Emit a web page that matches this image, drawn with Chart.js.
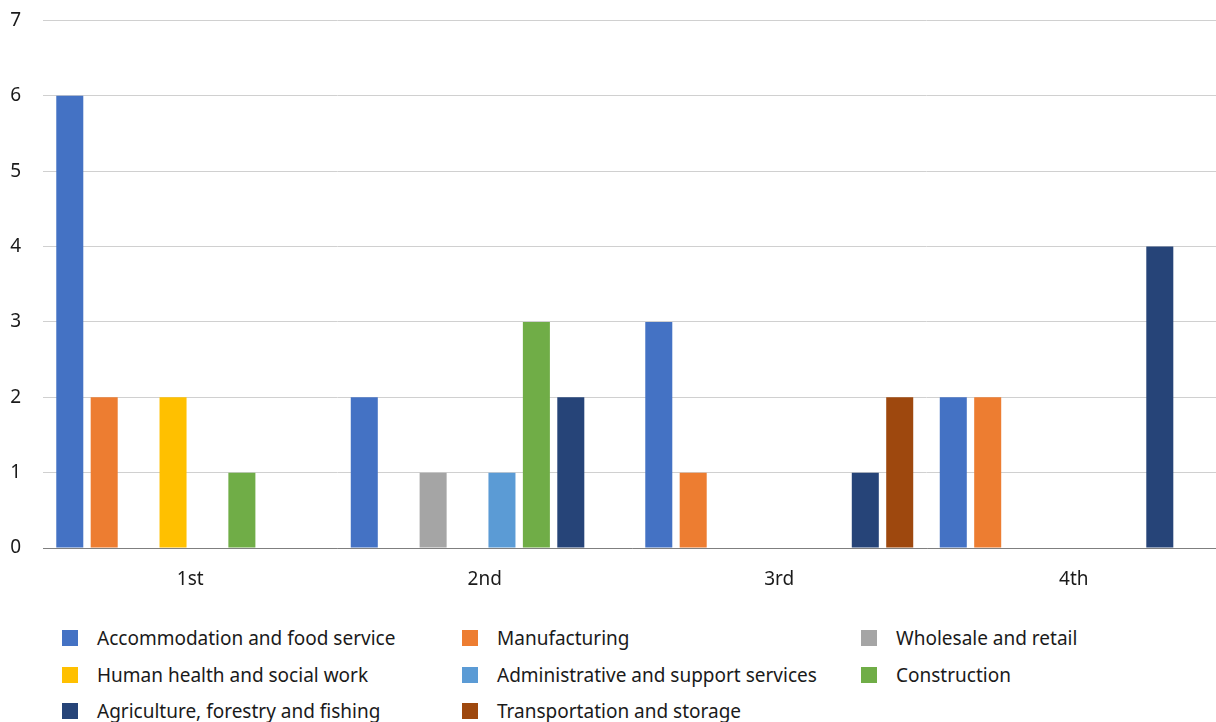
<!DOCTYPE html>
<html>
<head>
<meta charset="utf-8">
<script src="https://cdn.jsdelivr.net/npm/chart.js@4.4.1/dist/chart.umd.min.js"></script>
<style>
  html, body { margin: 0; padding: 0; background: #fff; overflow: hidden; }
  #wrap { position: relative; width: 1216px; height: 722px; overflow: hidden; font-family: "Noto Sans", sans-serif; }
  #chart-box { position: absolute; left: 0; top: -13px; width: 1221px; height: 613px; }
  .leg-item { position: absolute; display: flex; align-items: center; font-size: 19px; color: #1a1a1a; white-space: nowrap; }
  .leg-box { width: 16px; height: 16px; margin-right: 19px; }
</style>
</head>
<body>
<div id="wrap">
  <div id="chart-box"><canvas id="chart" width="1221" height="613"></canvas></div>
  <div id="legend"></div>
</div>
<script>
// DATA
const categories = ["1st", "2nd", "3rd", "4th"];
const seriesNames = [
  "Accommodation and food service",
  "Manufacturing",
  "Wholesale and retail",
  "Human health and social work",
  "Administrative and support services",
  "Construction",
  "Agriculture, forestry and fishing",
  "Transportation and storage"
];
const accommodation = [6, 2, 3, 2];
const manufacturing = [2, 0, 1, 2];
const wholesale = [0, 1, 0, 0];
const humanHealth = [2, 0, 0, 0];
const administrative = [0, 1, 0, 0];
const construction = [1, 3, 0, 0];
const agriculture = [0, 2, 1, 4];
const transportation = [0, 0, 2, 0];
const yTicks = [0, 1, 2, 3, 4, 5, 6, 7];

const seriesValues = [accommodation, manufacturing, wholesale, humanHealth,
  administrative, construction, agriculture, transportation];
const colors = ["#4472C4", "#ED7D31", "#A5A5A5", "#FFC000",
  "#5B9BD5", "#70AD47", "#264478", "#9E480E"];

// CHART
const datasets = seriesNames.map((name, i) => ({
  label: name,
  data: seriesValues[i],
  backgroundColor: colors[i],
  borderWidth: 0,
  categoryPercentage: 0.935,
  barPercentage: 0.785
}));

const ctx = document.getElementById("chart").getContext("2d");
new Chart(ctx, {
  type: "bar",
  data: { labels: categories, datasets },
  options: {
    responsive: false,
    animation: false,
    layout: { padding: { top: 8, right: 0, left: 0, bottom: 0 } },
    plugins: { legend: { display: false }, tooltip: { enabled: false } },
    scales: {
      x: {
        grid: { display: false, drawTicks: false },
        border: { display: true, color: "#7f7f7f", width: 1 },
        ticks: { color: "#1a1a1a", font: { family: "Noto Sans", size: 19 }, padding: 20 },
        afterFit: s => { s.height = 52; }
      },
      y: {
        min: 0,
        max: 7,
        afterBuildTicks: s => { s.ticks = yTicks.map(v => ({ value: v })); },
        grid: { color: "#d0d0d0", drawTicks: false, lineWidth: 1 },
        border: { display: false },
        ticks: { color: "#1a1a1a", font: { family: "Noto Sans", size: 19 }, padding: 22 },
        afterFit: s => { s.width = 43; }
      }
    }
  }
});

// LEGEND
const legend = document.getElementById("legend");
const colX = [62, 462, 861];
const rowY = [630, 667, 703];
seriesNames.forEach((name, i) => {
  const item = document.createElement("div");
  item.className = "leg-item";
  item.style.left = colX[i % 3] + "px";
  item.style.top = (rowY[Math.floor(i / 3)] - 5) + "px";
  item.style.height = "26px";
  item.innerHTML = `<span class="leg-box" style="background:${colors[i]}"></span><span>${name}</span>`;
  legend.appendChild(item);
});
</script>
</body>
</html>
